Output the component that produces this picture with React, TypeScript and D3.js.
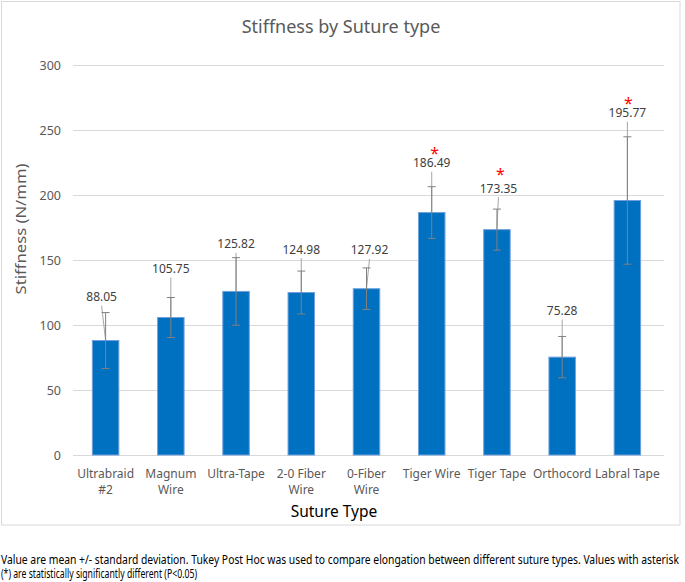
import React, { useEffect } from "react";
import * as d3 from "d3";

const categories: string[][] = [
  ["Ultrabraid", "#2"],
  ["Magnum", "Wire"],
  ["Ultra-Tape"],
  ["2-0 Fiber", "Wire"],
  ["0-Fiber", "Wire"],
  ["Tiger Wire"],
  ["Tiger Tape"],
  ["Orthocord"],
  ["Labral Tape"],
];
const means = [88.05, 105.75, 125.82, 124.98, 127.92, 186.49, 173.35, 75.28, 195.77];
const sds = [21.5, 15.4, 26, 16.5, 16, 19.9, 15.8, 15.9, 49];
const significant = [false, false, false, false, false, true, true, false, true];
const yTicks = [0, 50, 100, 150, 200, 250, 300];

// layout tweaks (manual label placement as in the original)
const labelDx = [-4, 0, 0, 0, 3, 0, 1.5, 0, 0];
const labelLift = [16, 29, 14, 22, 18, 24, 21, 26, 24];
const starDx = [0, 0, 0, 0, 0, 3, 3.5, 0, 1];
const starLift = [14, 14, 14, 14, 14, 14, 18, 14, 14];

const W = 685;
const H = 582;
const plot = { left: 73, right: 660, top: 65, bottom: 455 };
const FONT = "'Noto Sans', sans-serif";

export default function App() {
  useEffect(() => {
    document.body.style.margin = "0";
  }, []);

  const x = d3
    .scaleBand<number>()
    .domain(d3.range(categories.length))
    .range([plot.left, plot.right])
    .paddingInner(0.594)
    .paddingOuter(0.297);
  const y = d3.scaleLinear().domain([0, 300]).range([plot.bottom, plot.top]);
  const bw = x.bandwidth();

  return (
    <svg width={W} height={H} style={{ position: "absolute", left: 0, top: 0, background: "#fff" }}>
      <rect x={1.5} y={1.5} width={678.5} height={523.5} fill="#fff" stroke="#D9D9D9" strokeWidth={1} />
      <text x={341} y={33} textAnchor="middle" fontFamily={FONT} fontSize={18} fill="#595959">
        Stiffness by Suture type
      </text>

      {yTicks.map((t) => (
        <g key={t}>
          <line x1={plot.left} x2={plot.right + 4} y1={Math.round(y(t)) + 0.5} y2={Math.round(y(t)) + 0.5} stroke="#D9D9D9" strokeWidth={1} />
          <text x={61} y={y(t) + 4.5} textAnchor="end" fontFamily={FONT} fontSize={12.5} fill="#595959">
            {t}
          </text>
        </g>
      ))}

      <text
        transform={`translate(26,229) rotate(-90)`}
        textAnchor="middle"
        fontFamily={FONT}
        fontSize={15}
        fill="#595959"
        textLength={131}
        lengthAdjust="spacingAndGlyphs"
      >
        Stiffness (N/mm)
      </text>

      {means.map((m, i) => {
        const cx = (x(i) as number) + bw / 2;
        const top = y(m + sds[i]);
        const bot = y(m - sds[i]);
        const ly = top - labelLift[i];
        const lx = cx + labelDx[i];
        return (
          <g key={i}>
            <rect x={x(i)} y={y(m)} width={bw} height={y(0) - y(m)} fill="#0070C0" stroke="#6FA0DC" strokeWidth={1} />
            <line x1={lx} y1={ly + 9} x2={cx} y2={y(m)} stroke="#A6A6A6" strokeWidth={1} />
            <line x1={cx} x2={cx} y1={top} y2={bot} stroke="#808080" strokeWidth={1} />
            <line x1={cx - 4} x2={cx + 4} y1={top} y2={top} stroke="#808080" strokeWidth={1} />
            <line x1={cx - 4} x2={cx + 4} y1={bot} y2={bot} stroke="#808080" strokeWidth={1} />
            <text x={lx} y={ly + 4.5} textAnchor="middle" fontFamily={FONT} fontSize={12} fill="#404040">
              {m.toFixed(2)}
            </text>
            {significant[i] && (
              <text x={cx + starDx[i]} y={ly - starLift[i] + 10} textAnchor="middle" fontFamily={FONT} fontSize={16} fill="#FF0000">
                *
              </text>
            )}
            {categories[i].map((s, k) => (
              <text key={k} x={cx} y={478 + k * 16} textAnchor="middle" fontFamily={FONT} fontSize={12} fill="#595959">
                {s}
              </text>
            ))}
          </g>
        );
      })}

      <text x={334} y={517} textAnchor="middle" fontFamily={FONT} fontSize={15.5} fill="#000">
        Suture Type
      </text>

      <text x={1} y={564} fontFamily={FONT} fontSize={12} fill="#000" textLength={678} lengthAdjust="spacingAndGlyphs">
        Value are mean +/- standard deviation. Tukey Post Hoc was used to compare elongation between different suture types. Values with asterisk
      </text>
      <text x={1} y={578} fontFamily={FONT} fontSize={12} fill="#000" textLength={196} lengthAdjust="spacingAndGlyphs">
        (*) are statistically significantly different (P&lt;0.05)
      </text>
    </svg>
  );
}
